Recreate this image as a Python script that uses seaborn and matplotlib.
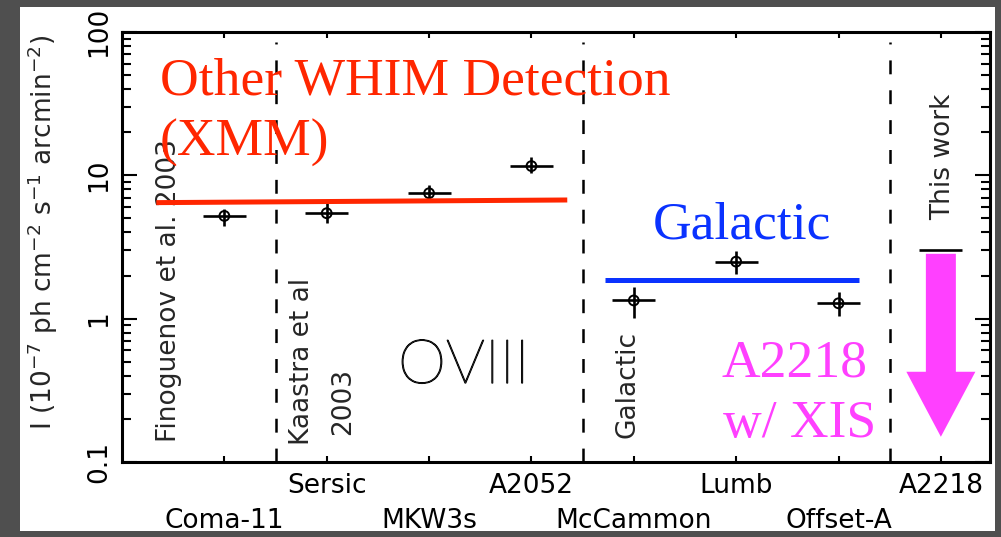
import numpy as np
import pandas as pd
import matplotlib
matplotlib.use("Agg")
import matplotlib.pyplot as plt
import matplotlib.patheffects as pe
from matplotlib.patches import Rectangle, ArrowStyle
from matplotlib.ticker import LogLocator, FixedLocator, FixedFormatter, NullFormatter
import seaborn as sns

# O VIII line intensities, 10^-7 ph cm^-2 s^-1 arcmin^-2
targets = ["Coma-11", "Sersic", "MKW3s", "A2052", "McCammon", "Lumb", "Offset-A", "A2218"]
intensity = [5.21, 5.44, 7.50, 11.6, 1.34, 2.50, 1.28]
err_low = [0.78, 0.79, 0.54, 1.2, 0.33, 0.45, 0.24]
err_high = [0.62, 1.29, 1.07, 1.9, 0.32, 0.47, 0.26]
x_halfwidth = 0.21
a2218_upper_limit = 3.0
arrow_tip = 0.15

# summary levels drawn as bands across each group
whim_level = [6.45, 6.73]
whim_span = [0.335, 4.35]
galactic_level = 1.86
galactic_span = [4.72, 7.20]
group_bounds = [1.5, 4.5, 7.5]

RED = "#ff2600"
BLUE = "#0a32ff"
MAGENTA = "#ff40ff"
BG = "#4f4f4f"
SANS = 19

sns.set_theme(style="ticks")
plt.rcParams["font.family"] = ["DejaVu Sans"]
plt.rcParams["mathtext.default"] = "regular"
plt.rcParams["lines.scale_dashes"] = False

fig = plt.figure(figsize=(10.01, 5.37), dpi=100, facecolor=BG)
fig.patches.append(Rectangle((20 / 1001, 1 - 531 / 537), 975 / 1001, 524 / 537,
                             transform=fig.transFigure, facecolor="white",
                             edgecolor="none", zorder=-5))
ax = fig.add_axes([0.12188, 0.13966, 0.86713, 0.80075])
ax.set_facecolor("none")

pos = np.arange(1, len(targets) + 1)
df = pd.DataFrame({"pos": pos[:len(intensity)], "I": intensity})

ax.set_yscale("log")
ax.set_ylim(0.1, 100)
ax.set_xlim(0, 8.48)

# group separators
for xb in group_bounds:
    ax.axvline(xb, ymin=0, ymax=0.977, color="black", lw=1.8,
               linestyle=(0, (10, 11.5)), zorder=1)

# measurements
ax.errorbar(df["pos"], df["I"], xerr=x_halfwidth, yerr=[err_low, err_high],
            fmt="none", ecolor="black", elinewidth=1.9, capsize=0, zorder=3)
sns.scatterplot(data=df, x="pos", y="I", ax=ax, marker="o", s=50,
                facecolor="none", edgecolor="black", linewidth=1.4, zorder=4,
                legend=False)

# A2218 upper limit
ax.errorbar([pos[-1]], [a2218_upper_limit], xerr=x_halfwidth, fmt="none",
            ecolor="black", elinewidth=1.9, capsize=0, zorder=3)
ax.annotate("", xy=(pos[-1], arrow_tip), xytext=(pos[-1], a2218_upper_limit * 0.945),
            arrowprops=dict(arrowstyle=ArrowStyle.Simple(head_length=4.68, head_width=4.97,
                                                         tail_width=2.16),
                            mutation_scale=10, color=MAGENTA, lw=0,
                            shrinkA=0, shrinkB=0), zorder=5)

# level bands
ax.plot(whim_span, whim_level, color=RED, lw=3.6, solid_capstyle="butt", zorder=5)
ax.plot(galactic_span, [galactic_level] * 2, color=BLUE, lw=3.6,
        solid_capstyle="butt", zorder=5)

# ticks
ax.xaxis.set_major_locator(FixedLocator(pos))
ax.xaxis.set_major_formatter(FixedFormatter(targets))
ax.yaxis.set_minor_locator(LogLocator(base=10, subs=np.arange(2, 10), numticks=10))
ax.yaxis.set_minor_formatter(NullFormatter())
ax.set_yticks([0.1, 1, 10, 100])
ax.set_yticklabels(["0.1", "1", "10", "100"])
ax.tick_params(axis="both", which="both", direction="in", top=True, right=True,
               colors="black", width=1.5, labelsize=SANS)
ax.tick_params(axis="x", length=4.5, pad=8)
ax.tick_params(axis="y", which="major", length=11, pad=7, labelrotation=90)
ax.tick_params(axis="y", which="minor", length=6.5)
# staggered category labels: every other one drops to a second row
for i, tick in enumerate(ax.xaxis.get_major_ticks()):
    if i % 2 == 0:
        tick.set_pad(33)
for lab in ax.get_yticklabels():
    lab.set_va("center")
for sp in ax.spines.values():
    sp.set_linewidth(2.2)
    sp.set_color("black")
    sp.set_zorder(6)

ax.set_xlabel("")
ax.set_ylabel("I (10$^{-7}$ ph cm$^{-2}$ s$^{-1}$ arcmin$^{-2}$)", fontsize=SANS,
              va="center")
ax.yaxis.set_label_coords(-0.091, 0.535)

# source annotations
rot = dict(rotation=90, ha="center", va="bottom", fontsize=SANS,
           transform=ax.transAxes, zorder=2)
ax.text(0.0541, 0.0465, "Finoguenov et al. 2003", **rot)
ax.text(0.2074, 0.0395, "Kaastra et al", **rot)
ax.text(0.2546, 0.0628, "2003", **rot)
ax.text(0.5829, 0.0558, "Galactic", **rot)
ax.text(0.9459, 0.5628, "This work", **rot)

ax.text(0.318, 0.1837, "OVIII", fontsize=44, family=["Lato", "DejaVu Sans"],
        fontweight="light", transform=ax.transAxes, va="baseline", ha="left",
        path_effects=[pe.withStroke(linewidth=0.9, foreground="black")])

serif = dict(family=["Liberation Serif", "DejaVu Serif"], fontsize=38.5,
             transform=ax.transAxes, va="baseline", ha="left", zorder=7)
ax.text(0.0438, 0.8558, "Other WHIM Detection", color=RED, **serif)
ax.text(0.0438, 0.7116, "(XMM)", color=RED, **serif)
ax.text(0.6118, 0.5209, "Galactic", color=BLUE, **serif)
ax.text(0.6912, 0.1977, "A2218", color=MAGENTA, **serif)
ax.text(0.6924, 0.0581, "w/ XIS", color=MAGENTA, **serif)

fig.savefig("out.png", dpi=100, facecolor=BG)
